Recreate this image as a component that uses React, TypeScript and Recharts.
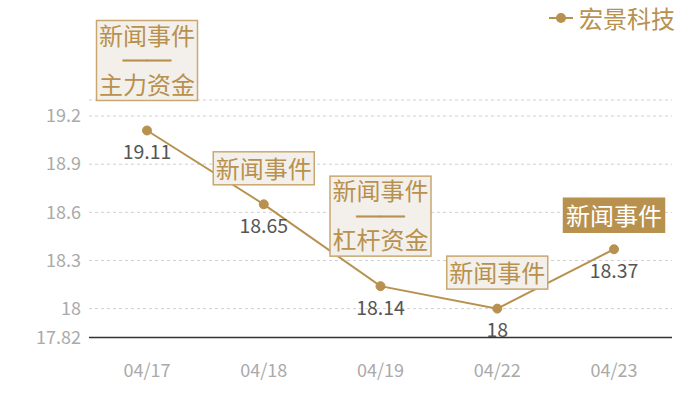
import React from 'react';
import { LineChart, Line, XAxis, YAxis, CartesianGrid, Legend, LabelList } from 'recharts';

const dates = ['04/17', '04/18', '04/19', '04/22', '04/23'];
const prices = [19.11, 18.65, 18.14, 18, 18.37];
const eventTitles = ['新闻事件', '新闻事件', '新闻事件', '新闻事件', '新闻事件'];
const eventDetails = ['主力资金', '', '杠杆资金', '', ''];
const highlighted = [false, false, false, false, true];
const yTicks = [17.82, 18, 18.3, 18.6, 18.9, 19.2, 19.3];
const hiddenTicks = [19.3];
const seriesName = '宏景科技';
const separator = '──';

const GOLD = '#b8914f';
const FONT = '"Noto Sans CJK SC", "Noto Sans", sans-serif';

const data = dates.map((d, i) => ({
  date: d,
  price: prices[i],
  idx: i,
}));

const YTick = (props: any) => {
  const { x, y, payload } = props;
  if (hiddenTicks.includes(payload.value)) return null;
  return (
    <text x={x} y={y} dy="0.35em" textAnchor="end" fill="#aaaaaa" fontSize={18} fontFamily={FONT}>
      {payload.value}
    </text>
  );
};

const XTick = (props: any) => {
  const { x, y, payload } = props;
  return (
    <text x={x} y={y} dy="0.71em" textAnchor="middle" fill="#aaaaaa" fontSize={18} fontFamily={FONT}>
      {payload.value}
    </text>
  );
};

const ValueLabel = (props: any) => {
  const { x, y, value } = props;
  return (
    <text x={x} y={y + 22} dy="0.35em" textAnchor="middle" fill="#555555" fontSize={19.5} fontFamily={FONT}>
      {value}
    </text>
  );
};

const EventBox = (props: any) => {
  const { x, y, index } = props;
  const title = eventTitles[index];
  const detail = eventDetails[index];
  const hl = highlighted[index];
  const w = 101;
  if (detail) {
    const h = 80;
    const bottom = y - 30;
    const top = bottom - h;
    const cy = top + h / 2;
    return (
      <g>
        <rect x={x - w / 2} y={top} width={w} height={h} fill="#f3f0eb" stroke="#c9a770" strokeWidth={1.5} />
        <text textAnchor="middle" fill={GOLD} fontSize={24} fontFamily={FONT}>
          <tspan x={x} y={cy - 24.5} dy="0.36em">{title}</tspan>
          <tspan x={x} y={cy} dy="0.36em" stroke={GOLD} strokeWidth={0.9}>{separator}</tspan>
          <tspan x={x} y={cy + 24.5} dy="0.36em">{detail}</tspan>
        </text>
      </g>
    );
  }
  const h = hl ? 34 : 33;
  const bottom = y - (hl ? 17 : 19.5);
  const top = bottom - h;
  const cy = top + h / 2;
  return (
    <g>
      <rect
        x={x - w / 2}
        y={top}
        width={w}
        height={h}
        fill={hl ? GOLD : '#f3f0eb'}
        stroke={hl ? GOLD : '#c9a770'}
        strokeWidth={1.5}
      />
      <text x={x} y={cy + 1} dy="0.36em" textAnchor="middle" fill={hl ? '#ffffff' : GOLD} fontSize={24} fontFamily={FONT}>
        {title}
      </text>
    </g>
  );
};

const LegendContent = () => (
  <div style={{ display: 'flex', alignItems: 'center', fontFamily: FONT }}>
    <svg width={26} height={14} style={{ marginRight: 4 }}>
      <line x1={0} y1={7} x2={24} y2={7} stroke={GOLD} strokeWidth={2} />
      <circle cx={12} cy={7} r={5} fill={GOLD} />
    </svg>
    <span style={{ color: GOLD, fontSize: 24, lineHeight: '30px' }}>{seriesName}</span>
  </div>
);

export default function App() {
  return (
    <div style={{ position: 'absolute', left: 0, top: 0, width: 700, height: 400, background: '#ffffff' }}>
      <LineChart
        width={700}
        height={400}
        data={data}
        margin={{ top: 100, right: 28, bottom: 0, left: 0 }}
      >
        <CartesianGrid vertical={false} stroke="#d0d0d0" strokeDasharray="3 3" />
        <XAxis
          dataKey="date"
          height={62.5}
          padding={{ left: 58, right: 58 }}
          axisLine={{ stroke: '#333333', strokeWidth: 1.5 }}
          tickLine={false}
          tickMargin={21}
          tick={<XTick />}
          interval={0}
        />
        <YAxis
          width={89}
          domain={[17.82, 19.3]}
          ticks={yTicks}
          type="number"
          axisLine={false}
          tickLine={false}
          tick={<YTick />}
          interval={0}
        />
        <Legend
          verticalAlign="middle"
          align="center"
          layout="horizontal"
          content={<LegendContent />}
          wrapperStyle={{ top: 3, left: 549, width: 150, height: 30 }}
        />
        <Line
          type="linear"
          dataKey="price"
          name={seriesName}
          stroke={GOLD}
          strokeWidth={2}
          dot={{ r: 4.5, fill: GOLD, stroke: GOLD, strokeWidth: 1 }}
          activeDot={false}
          isAnimationActive={false}
        >
          <LabelList dataKey="price" content={<ValueLabel />} />
          <LabelList dataKey="idx" content={<EventBox />} />
        </Line>
      </LineChart>
    </div>
  );
}
